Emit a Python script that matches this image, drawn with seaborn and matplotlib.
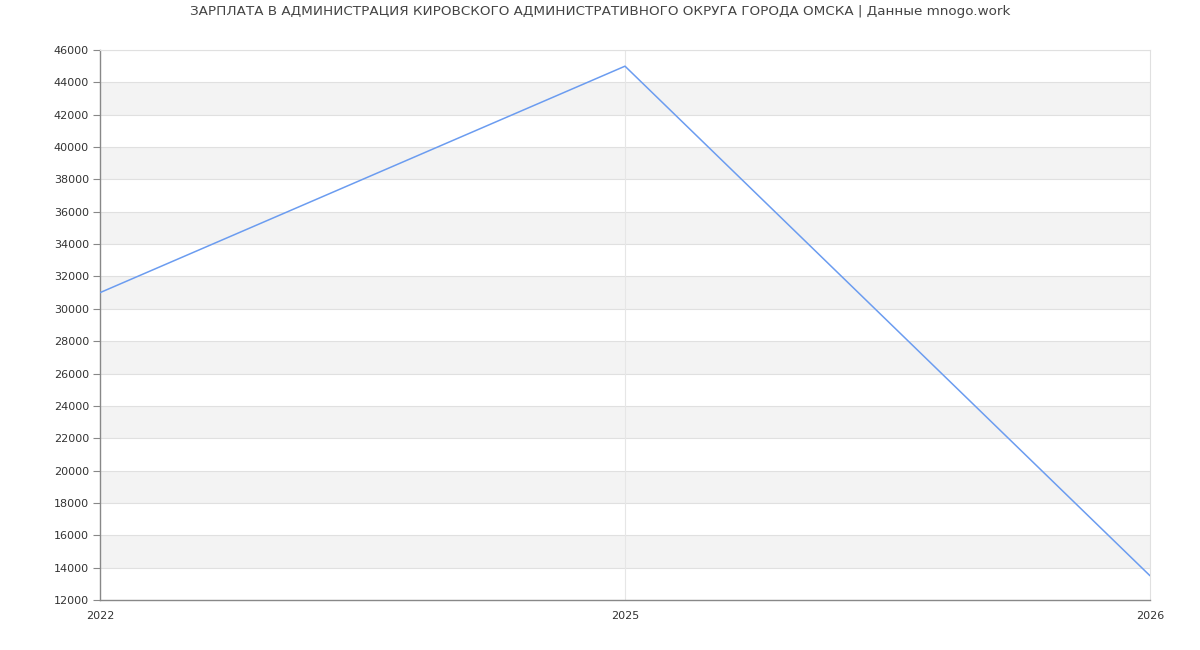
import matplotlib
matplotlib.use("Agg")
import matplotlib.pyplot as plt
import seaborn as sns
import pandas as pd

# данные с графика
years = ["2022", "2025", "2026"]
salary = [31000, 45000, 13500]

df = pd.DataFrame({"year": years, "salary": salary})
df["pos"] = range(len(years))

sns.set_style("white")
plt.rcParams["font.family"] = ["DejaVu Sans"]

fig = plt.figure(figsize=(12, 6.5), dpi=100)
ax = fig.add_axes([100 / 1200, 50 / 650, 1050 / 1200, 550 / 650])

# чередующиеся серые полосы
for lo in range(14000, 46000, 4000):
    ax.axhspan(lo, lo + 2000, color="#f3f3f3", zorder=0, lw=0)
for y in range(14000, 46001, 2000):
    ax.axhline(y, color="#e0e0e0", lw=0.8, zorder=1)
ax.axvline(1, color="#e6e6e6", lw=0.8, zorder=1)

sns.lineplot(data=df, x="pos", y="salary", color="#6b9cf0", lw=1.1, ax=ax, zorder=3)

ax.set_xlim(0, 2)
ax.set_ylim(12000, 46000)
ax.set_yticks(range(12000, 46001, 2000))
ax.set_xticks(df["pos"])
ax.set_xticklabels(years)
ax.set_xlabel("")
ax.set_ylabel("")
ax.tick_params(axis="y", left=True, labelsize=8, colors="#333333", length=5, width=0.8, pad=3)
ax.tick_params(axis="y", color="#888888")
ax.tick_params(axis="x", labelsize=8, colors="#333333", length=0, pad=8)

for s in ["top", "right"]:
    ax.spines[s].set_color("#e0e0e0")
    ax.spines[s].set_linewidth(0.8)
for s in ["left", "bottom"]:
    ax.spines[s].set_color("#888888")
    ax.spines[s].set_linewidth(1)

fig.suptitle("ЗАРПЛАТА В АДМИНИСТРАЦИЯ КИРОВСКОГО АДМИНИСТРАТИВНОГО ОКРУГА ГОРОДА ОМСКА | Данные mnogo.work",
             y=1 - 12 / 650, va="center", fontsize=9.7, color="#444444")

fig.savefig("out.png", dpi=100)
